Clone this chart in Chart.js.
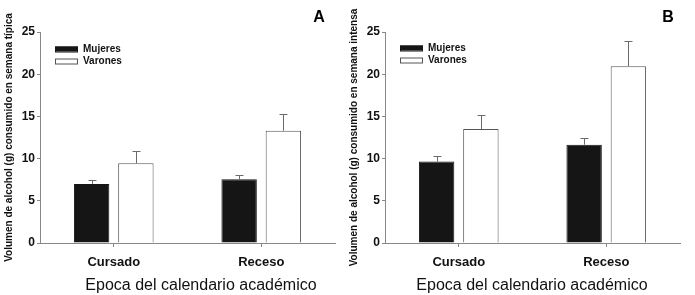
<!DOCTYPE html>
<html lang="es">
<head>
<meta charset="UTF-8">
<title>Consumo de alcohol</title>
<script src="https://cdn.jsdelivr.net/npm/chart.js"></script>
<style>
  body { margin: 0; background: #fff; }
  .panel { position: absolute; top: 0; width: 345px; height: 295px; }
</style>
</head>
<body>
<div class="panel" style="left:0"><canvas id="chartA" width="345" height="295"></canvas></div>
<div class="panel" style="left:345px"><canvas id="chartB" width="345" height="295"></canvas></div>
<script>
const categories = ['Cursado', 'Receso'];
const yTicks = [0, 5, 10, 15, 20, 25];
const seriesNames = ['Mujeres', 'Varones'];

// Panel A - semana típica
const mujeresA = [7.0, 7.55];
const varonesA = [9.45, 13.3];
const mujeresErrA = [0.45, 0.5];
const varonesErrA = [1.45, 1.95];

// Panel B - semana intensa
const mujeresB = [9.65, 11.65];
const varonesB = [13.5, 20.95];
const mujeresErrB = [0.7, 0.85];
const varonesErrB = [1.7, 2.95];

const FONT = "Arial, 'Liberation Sans', sans-serif";
const AXIS = '#888888';

// error bars, legend, panel letter and x title
const extras = {
  id: 'extras',
  afterDatasetsDraw(chart, args, opts) {
    const ctx = chart.ctx;
    const y = chart.scales.y;
    ctx.save();
    ctx.strokeStyle = '#6a6a6a';
    ctx.lineWidth = 1;
    opts.errors.forEach((errs, di) => {
      const meta = chart.getDatasetMeta(di);
      const vals = chart.data.datasets[di].data;
      meta.data.forEach((bar, i) => {
        const x = Math.round(bar.x) + 0.5;
        const y0 = y.getPixelForValue(vals[i]);
        const y1 = Math.round(y.getPixelForValue(vals[i] + errs[i])) + 0.5;
        ctx.beginPath();
        ctx.moveTo(x, y0);
        ctx.lineTo(x, y1);
        ctx.moveTo(x - 4, y1);
        ctx.lineTo(x + 4, y1);
        ctx.stroke();
      });
    });

    // legend
    ctx.font = 'bold 10px ' + FONT;
    ctx.textBaseline = 'middle';
    chart.data.datasets.forEach((ds, i) => {
      const ly = opts.legendY + i * 12;
      ctx.fillStyle = ds.backgroundColor;
      ctx.fillRect(opts.legendX, ly - 2.5, 23, 5);
      ctx.strokeStyle = ds.borderColor;
      ctx.strokeRect(opts.legendX + 0.5, ly - 2, 22, 5);
      ctx.fillStyle = '#111';
      ctx.textAlign = 'left';
      ctx.fillText(ds.label, opts.legendX + 28, ly);
    });

    // panel letter
    ctx.font = 'bold 16px ' + FONT;
    ctx.textAlign = 'center';
    ctx.fillStyle = '#000';
    ctx.fillText(opts.letter, opts.letterX, 18);

    // x axis title
    ctx.font = '16px ' + FONT;
    ctx.fillStyle = '#111';
    ctx.fillText('Epoca del calendario académico', opts.titleX, 286);
    ctx.restore();
  }
};

function makeChart(id, muj, varo, errM, errV, yTitle, letter, titleX, legendX, legendY) {
  return new Chart(document.getElementById(id), {
    type: 'bar',
    data: {
      labels: categories,
      datasets: [{
        label: seriesNames[0],
        data: muj,
        backgroundColor: '#151515',
        borderColor: '#151515',
        borderWidth: 1
      }, {
        label: seriesNames[1],
        data: varo,
        backgroundColor: '#ffffff',
        borderColor: '#555555',
        borderWidth: 1
      }]
    },
    options: {
      responsive: false,
      animation: false,
      events: [],
      categoryPercentage: 0.6,
      barPercentage: 0.8,
      layout: { padding: { top: 32, right: 10, left: 0, bottom: 0 } },
      plugins: {
        legend: { display: false },
        tooltip: { enabled: false },
        extras: { errors: [errM, errV], letter: letter, letterX: letter === 'A' ? 319 : 323,
                  titleX: titleX, legendX: legendX, legendY: legendY }
      },
      scales: {
        x: {
          grid: { offset: false, drawOnChartArea: false, tickLength: 4, color: AXIS },
          border: { color: AXIS, width: 1 },
          ticks: { color: '#111', font: { family: FONT, size: 13, weight: 'bold' }, padding: 8 },
          afterFit: s => { s.height = 52; }
        },
        y: {
          min: 0, max: 25,
          afterBuildTicks: s => { s.ticks = yTicks.map(v => ({ value: v })); },
          grid: { drawOnChartArea: false, tickLength: 3, color: AXIS },
          border: { color: AXIS, width: 1 },
          ticks: { color: '#111', font: { family: FONT, size: 12, weight: 'bold' }, padding: 2 },
          title: { display: true, text: yTitle, color: '#111',
                   font: { family: FONT, size: 10, weight: 'bold' }, padding: { top: 3, bottom: 0 } },
          afterFit: s => { s.width = 40; }
        }
      }
    },
    plugins: [extras]
  });
}

makeChart('chartA', mujeresA, varonesA, mujeresErrA, varonesErrA,
  'Volumen de alcohol (g) consumido en semana típica', 'A', 201, 55, 49);
makeChart('chartB', mujeresB, varonesB, mujeresErrB, varonesErrB,
  'Volumen de alcohol (g) consumido en semana intensa', 'B', 187, 55, 48);
</script>
</body>
</html>
